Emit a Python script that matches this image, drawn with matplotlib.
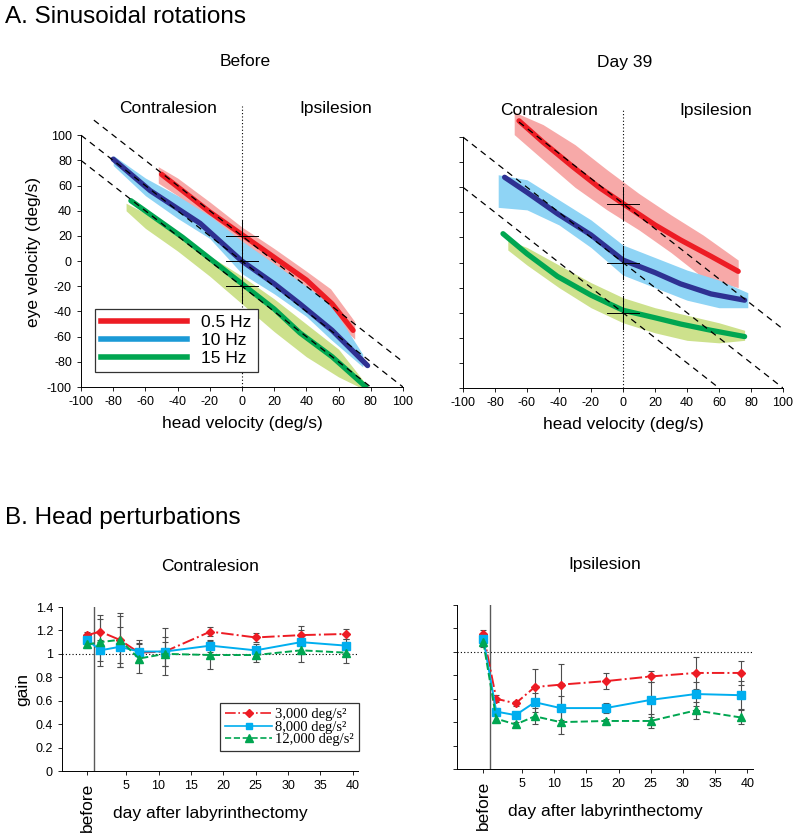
import numpy as np
import matplotlib
matplotlib.use("Agg")
import matplotlib.pyplot as plt
from matplotlib.lines import Line2D
from matplotlib import transforms

plt.rcParams['font.family'] = ['Liberation Sans', 'DejaVu Sans']
plt.rcParams['axes.unicode_minus'] = False

# ---------------- A. sinusoidal rotations ----------------
freq_labels = ['0.5 Hz', '10 Hz', '15 Hz']

# Before: mean traces (head velocity, eye velocity)
before_red_x = [-50, -40, -20, 0, 20, 40, 56, 69]
before_red_y = [69, 59, 39, 21, 3, -15, -34, -55]
before_blue_x = [-80, -57, -26, 0, 20, 36, 56, 78]
before_blue_y = [81, 56, 30, 0, -18, -34, -55, -83]
before_green_x = [-69, -37, -20, 0, 20, 36, 56, 77]
before_green_y = [48, 19, 2, -18, -38, -57, -76, -100]

# Before: raw-data clouds (x, upper, lower)
before_red_band_x = [-52, -40, -20, 0, 20, 40, 55, 70]
before_red_band_hi = [75, 66, 47, 27, 10, -8, -22, -48]
before_red_band_lo = [62, 52, 32, 14, -6, -24, -44, -62]
before_blue_band_x = [-80, -60, -40, -20, 0, 20, 40, 55, 75]
before_blue_band_hi = [84, 66, 52, 36, 16, -2, -20, -34, -74]
before_blue_band_lo = [76, 52, 34, 18, -10, -26, -44, -62, -84]
before_green_band_x = [-72, -60, -40, -20, 0, 20, 40, 60, 76]
before_green_band_hi = [46, 38, 22, 4, -12, -30, -50, -70, -96]
before_green_band_lo = [40, 26, 8, -12, -34, -56, -76, -92, -102]

# Day 39
day39_red_x = [-65, -50, -31, -15, 0, 20, 36, 55, 72]
day39_red_y = [113, 96, 76, 60, 47, 30, 18, 5, -7]
day39_blue_x = [-74, -60, -41, -20, 0, 20, 36, 55, 76]
day39_blue_y = [68, 56, 39, 22, 2, -8, -17, -25, -30]
day39_green_x = [-75, -60, -41, -20, 0, 20, 36, 55, 76]
day39_green_y = [23, 7, -11, -26, -38, -44, -49, -54, -59]

day39_red_band_x = [-68, -50, -30, -10, 10, 30, 50, 72]
day39_red_band_hi = [120, 110, 94, 74, 55, 38, 22, 2]
day39_red_band_lo = [102, 82, 60, 42, 26, 8, -12, -20]
day39_blue_band_x = [-78, -60, -40, -20, 0, 20, 40, 60, 78]
day39_blue_band_hi = [70, 66, 50, 34, 14, 4, -6, -14, -24]
day39_blue_band_lo = [44, 42, 30, 12, -10, -20, -30, -36, -36]
day39_green_band_x = [-72, -60, -40, -20, 0, 20, 40, 60, 76]
day39_green_band_hi = [18, 12, -2, -16, -28, -36, -42, -48, -54]
day39_green_band_lo = [10, -2, -20, -36, -48, -56, -62, -64, -62]

# unity-gain reference lines (offset) and cross centres
before_offsets = [20, 0, -20]
before_cross_y = [20, 0, -20]
day39_offsets = [47, 0, -40]
day39_cross_y = [47, 0, -40]

# ---------------- B. head perturbations ----------------
days = [-1, 1, 4, 7, 11, 18, 25, 32, 39]
accel_labels = ['3,000 deg/s\u00b2', '8,000 deg/s\u00b2', '12,000 deg/s\u00b2']

contra_3000 = [1.16, 1.19, 1.12, 1.01, 1.02, 1.19, 1.14, 1.16, 1.17]
contra_8000 = [1.12, 1.03, 1.06, 1.02, 1.02, 1.07, 1.03, 1.10, 1.07]
contra_12000 = [1.08, 1.10, 1.12, 0.96, 1.00, 0.99, 0.99, 1.03, 1.01]
contra_3000_err = [0.03, 0.14, 0.20, 0.08, 0.20, 0.04, 0.04, 0.08, 0.04]
contra_8000_err = [0.04, 0.09, 0.17, 0.10, 0.12, 0.05, 0.05, 0.10, 0.06]
contra_12000_err = [0.03, 0.20, 0.23, 0.12, 0.10, 0.12, 0.06, 0.10, 0.09]

ipsi_3000 = [1.15, 0.60, 0.56, 0.70, 0.72, 0.75, 0.79, 0.82, 0.82]
ipsi_8000 = [1.11, 0.49, 0.46, 0.57, 0.52, 0.52, 0.59, 0.64, 0.63]
ipsi_12000 = [1.08, 0.43, 0.38, 0.45, 0.40, 0.41, 0.41, 0.50, 0.44]
ipsi_3000_err = [0.04, 0.03, 0.02, 0.15, 0.18, 0.07, 0.05, 0.14, 0.10]
ipsi_8000_err = [0.04, 0.03, 0.02, 0.08, 0.10, 0.04, 0.15, 0.10, 0.12]
ipsi_12000_err = [0.04, 0.03, 0.02, 0.07, 0.10, 0.02, 0.06, 0.07, 0.06]

RED, NAVY, GREEN = '#ed1c24', '#2e3192', '#00a651'
LEG_BLUE = '#1b9ad6'
PINK, SKY, LIME = '#f7a9a8', '#8fd4f5', '#cde18c'
B_RED, B_BLUE, B_GREEN = '#ed1c24', '#00aeef', '#00a651'

W, H = 800, 836
fig = plt.figure(figsize=(W / 100, H / 100), dpi=100)


def rect(x0, y0, x1, y1):
    return [x0 / W, 1 - y1 / H, (x1 - x0) / W, (y1 - y0) / H]


def style_axes(ax):
    ax.spines['top'].set_visible(False)
    ax.spines['right'].set_visible(False)
    ax.spines['left'].set_linewidth(0.7)
    ax.spines['bottom'].set_linewidth(0.7)
    ax.tick_params(direction='out', length=3, width=0.6, labelsize=9)


def velocity_panel(ax, curves, bands, offsets, cross_y, show_ylabels):
    style_axes(ax)
    ax.set_xlim(-100, 100)
    ax.set_ylim(-100, 128)
    ax.spines['left'].set_bounds(-100, 100)
    ax.set_xticks(np.arange(-100, 101, 20))
    ax.set_yticks(np.arange(-100, 101, 20))
    if not show_ylabels:
        ax.set_yticklabels([])
    for (bx, hi, lo), col in zip(bands, [PINK, SKY, LIME]):
        ax.fill_between(bx, lo, hi, color=col, lw=0, zorder=1)
    for (cx, cy), col in zip(curves, [RED, NAVY, GREEN]):
        ax.plot(cx, cy, color=col, lw=3.8, solid_capstyle='round', zorder=3)
    for c in offsets:
        x0 = max(-100, c - 100 - 12) if c > 0 else -100
        x1 = min(100, c + 100)
        xs = np.array([x0, x1])
        ax.plot(xs, c - xs, color='k', lw=0.9, dashes=(5, 4), zorder=4)
    ax.plot([0, 0], [-100, 123], color='k', lw=0.8, ls=(0, (1, 2)), zorder=4)
    for cy in cross_y:
        ax.plot([-10, 10], [cy, cy], color='k', lw=0.7, zorder=5)
        ax.plot([0, 0], [cy - 13, cy + 13], color='k', lw=0.7, zorder=5)
    ax.text(-46, 121, 'Contralesion', ha='center', va='center', fontsize=12.5)
    ax.text(58, 121, 'Ipsilesion', ha='center', va='center', fontsize=12.5)
    ax.set_xlabel('head velocity (deg/s)', fontsize=12.5, labelpad=6)


fig.text(0.006, 1 - 17 / H, 'A. Sinusoidal rotations', fontsize=17.5, va='center')
fig.text(0.006, 1 - 518 / H, 'B. Head perturbations', fontsize=17.5, va='center')

ax1 = fig.add_axes(rect(81, 100, 403, 387))
velocity_panel(ax1,
               [(before_red_x, before_red_y), (before_blue_x, before_blue_y),
                (before_green_x, before_green_y)],
               [(before_red_band_x, before_red_band_hi, before_red_band_lo),
                (before_blue_band_x, before_blue_band_hi, before_blue_band_lo),
                (before_green_band_x, before_green_band_hi, before_green_band_lo)],
               before_offsets, before_cross_y, True)
ax1.set_ylabel('eye velocity (deg/s)', fontsize=12.5, labelpad=2)
ax1.yaxis.set_label_coords(-0.125, 0.47)
handles = [Line2D([], [], color=c, lw=4) for c in [RED, LEG_BLUE, GREEN]]
leg = ax1.legend(handles, freq_labels, loc='lower left', bbox_to_anchor=(0.015, 0.022),
                 fontsize=12.5, handlelength=5.0, labelspacing=0.15, borderpad=0.35,
                 handletextpad=0.8, fancybox=False, framealpha=1, edgecolor='0.2')
leg.get_frame().set_linewidth(0.9)
fig.text(245 / W, 1 - 62 / H, 'Before', fontsize=12.5, ha='center', va='center')

ax2 = fig.add_axes(rect(463, 102, 783, 388))
velocity_panel(ax2,
               [(day39_red_x, day39_red_y), (day39_blue_x, day39_blue_y),
                (day39_green_x, day39_green_y)],
               [(day39_red_band_x, day39_red_band_hi, day39_red_band_lo),
                (day39_blue_band_x, day39_blue_band_hi, day39_blue_band_lo),
                (day39_green_band_x, day39_green_band_hi, day39_green_band_lo)],
               day39_offsets, day39_cross_y, False)
fig.text(625 / W, 1 - 62 / H, 'Day 39', fontsize=12.5, ha='center', va='center')


def gain_panel(ax, series, errs, title, show_ylabels):
    style_axes(ax)
    ax.set_ylim(0, 1.4)
    ax.set_yticks(np.arange(0, 1.41, 0.2))
    if show_ylabels:
        ax.set_yticklabels(['0', '0.2', '0.4', '0.6', '0.8', '1', '1.2', '1.4'])
    else:
        ax.set_yticklabels([])
    ax.set_xticks([-1, 5, 10, 15, 20, 25, 30, 35, 40])
    ax.set_xticklabels([''] + [str(d) for d in range(5, 41, 5)])
    trans = transforms.blended_transform_factory(ax.transData, ax.transAxes)
    ax.text(-1, -0.07, 'before', rotation=90, ha='center', va='top',
            fontsize=12.5, transform=trans)
    ax.axhline(1.0, color='k', lw=0.8, ls=(0, (1, 2)), zorder=1)
    ax.axvline(0, color='0.35', lw=1.0, zorder=1)
    styles = [dict(color=B_RED, ls='-.', marker='D', ms=4.5),
              dict(color=B_BLUE, ls='-', marker='s', ms=5.5),
              dict(color=B_GREEN, ls='--', marker='^', ms=6)]
    for y, e, st in zip(series, errs, styles):
        ax.errorbar(days, y, yerr=e, fmt='none', ecolor='0.3', elinewidth=0.8,
                    capsize=2.5, capthick=0.8, zorder=2)
        ax.plot(days, y, lw=1.4, zorder=3, **st)
    ax.set_xlabel('day after labyrinthectomy', fontsize=12.5, labelpad=10)
    ax.set_title(title, fontsize=12.5, pad=26)


ax3 = fig.add_axes(rect(62, 607, 358, 771))
ax3.set_xlim(-4.9, 40.8)
gain_panel(ax3, [contra_3000, contra_8000, contra_12000],
           [contra_3000_err, contra_8000_err, contra_12000_err], 'Contralesion', True)
ax3.set_ylabel('gain', fontsize=12.5, labelpad=4)
leg_handles = [Line2D([], [], color=B_RED, ls='-.', marker='D', ms=4.5, lw=1.2),
               Line2D([], [], color=B_BLUE, ls='-', marker='s', ms=5, lw=1.2),
               Line2D([], [], color=B_GREEN, ls='--', marker='^', ms=5.5, lw=1.2)]
leg2 = ax3.legend(leg_handles, accel_labels, loc='lower left', bbox_to_anchor=(0.51, 0.075),
                  prop={'family': 'Liberation Serif', 'size': 10.5}, handlelength=3.2,
                  labelspacing=-0.05, borderpad=0.35, handletextpad=0.2,
                  fancybox=False, framealpha=1, edgecolor='0.2', numpoints=1)
leg2.get_frame().set_linewidth(0.9)

ax4 = fig.add_axes(rect(457, 605, 753, 769))
ax4.set_xlim(-5.1, 40.9)
gain_panel(ax4, [ipsi_3000, ipsi_8000, ipsi_12000],
           [ipsi_3000_err, ipsi_8000_err, ipsi_12000_err], 'Ipsilesion', False)

fig.savefig('out.png', dpi=100)
